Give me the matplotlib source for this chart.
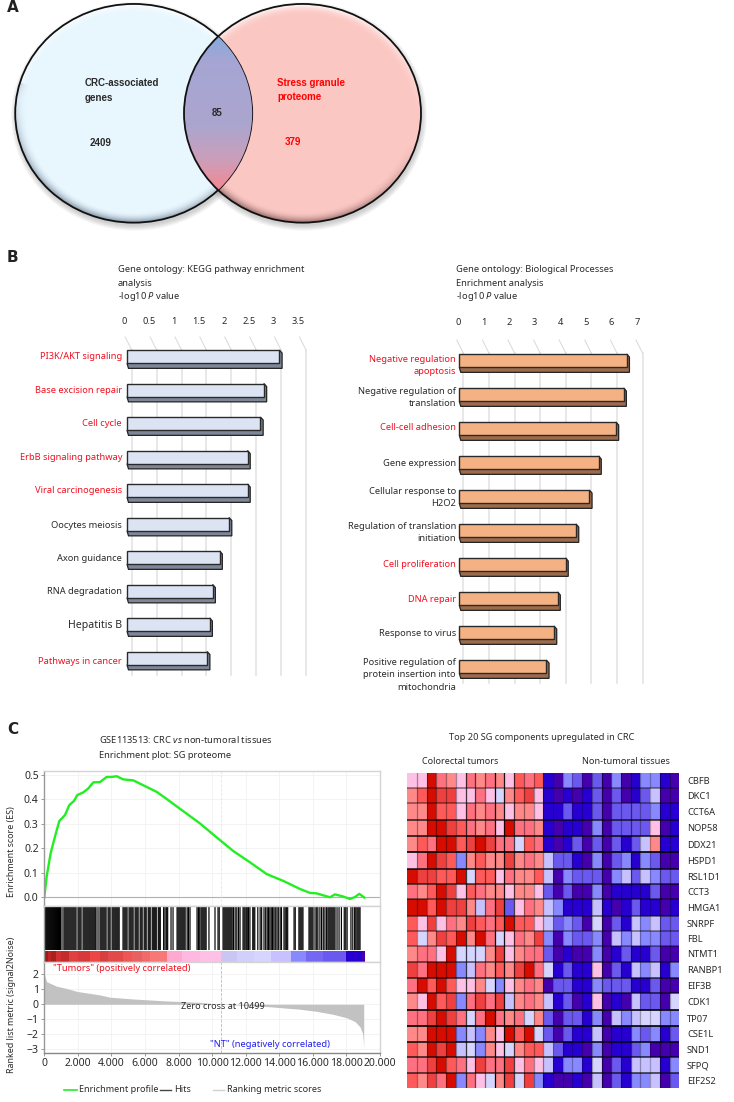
import numpy as np
import matplotlib
matplotlib.use('Agg')
import matplotlib.pyplot as plt
from matplotlib.colors import ListedColormap
from matplotlib.patches import Ellipse, Polygon, PathPatch
from matplotlib.path import Path

plt.rcParams['font.family'] = ['Noto Sans', 'DejaVu Sans']
plt.rcParams['mathtext.fontset'] = 'custom'
plt.rcParams['mathtext.rm'] = 'Noto Sans'
plt.rcParams['mathtext.it'] = 'Noto Sans:italic'

W, H = 734, 1102
TXT = '#2a2a2a'
RED = '#f01020'
FS = 6.7

# Panel A
venn_counts = ['2409', '85', '379']

# Panel B
kegg_terms = ['PI3K/AKT signaling', 'Base excision repair', 'Cell cycle', 'ErbB signaling pathway',
              'Viral carcinogenesis', 'Oocytes meiosis', 'Axon guidance', 'RNA degradation',
              'Hepatitis B', 'Pathways in cancer']
kegg_values = [3.06, 2.75, 2.68, 2.42, 2.42, 2.05, 1.86, 1.72, 1.66, 1.61]
kegg_red = [1, 1, 1, 1, 1, 0, 0, 0, 0, 1]
kegg_ticks = [0, 0.5, 1, 1.5, 2, 2.5, 3, 3.5]

bp_terms = ['Negative regulation\napoptosis', 'Negative regulation of\ntranslation', 'Cell-cell adhesion',
            'Gene expression', 'Cellular response to\nH2O2', 'Regulation of translation\ninitiation',
            'Cell proliferation', 'DNA repair', 'Response to virus',
            'Positive regulation of\nprotein insertion into\nmitochondria']
bp_values = [6.54, 6.42, 6.12, 5.44, 5.08, 4.56, 4.15, 3.84, 3.70, 3.40]
bp_red = [1, 0, 1, 0, 0, 0, 1, 1, 0, 0]
bp_ticks = [0, 1, 2, 3, 4, 5, 6, 7]

# Panel C, enrichment plot
es_rank = [0, 139, 377, 635, 894, 1231, 1490, 1768, 1966, 2323, 2621, 2919, 3316, 3713, 4011, 4309, 4706,
           5303, 5899, 6693, 7289, 8083, 9275, 10268, 11261, 12254, 13247, 14240, 15233, 15828, 16226,
           17020, 17318, 17815, 18212, 18510, 18768, 19066]
es_value = [0, 0.084, 0.18, 0.248, 0.312, 0.336, 0.377, 0.394, 0.418, 0.429, 0.445, 0.47, 0.471, 0.492,
            0.492, 0.495, 0.482, 0.478, 0.458, 0.431, 0.402, 0.362, 0.302, 0.245, 0.189, 0.143, 0.095,
            0.067, 0.034, 0.018, 0.016, 0.0, 0.012, 0.003, -0.007, 0.001, 0.014, -0.001]

hits = [0, 60, 120, 180, 240, 300, 360, 420, 480, 540, 600, 660, 720, 780, 840, 900, 960, 1055,
        1170, 1230, 1290, 1350, 1410, 1470, 1530, 1590, 1650, 1710, 1770, 1830, 1890,
        2010, 2070, 2130, 2190, 2310, 2370, 2430, 2490, 2550, 2610, 2670, 2730, 2790, 2850, 2910, 2970,
        3030, 3080, 3200, 3320, 3380, 3440, 3500, 3560, 3620, 3680, 3800, 3860, 3920,
        4040, 4100, 4160, 4220, 4280, 4340, 4400, 4460, 4690, 4750, 4810, 4870, 4930,
        5050, 5110, 5170, 5230, 5290, 5410, 5470, 5530, 5590, 5710, 5770, 5830, 5950, 6010, 6070,
        6190, 6250, 6310, 6430, 6490, 6550, 6610, 6670, 6790, 6850, 6910, 7110, 7190, 7270, 7350,
        7550, 7670, 7910, 7970, 8030, 8090, 8150, 8210, 8270, 8330, 8390, 8510, 8590, 8680,
        9100, 9180, 9260, 9340, 9400, 9460, 9520, 9580, 9640, 9810, 10170, 10350, 10420,
        10650, 10710, 10770, 10830, 10890, 10950, 11010, 11070, 11130, 11190, 11270, 11370, 11470, 11570,
        11660, 11840, 11900, 11960, 12030, 12090, 12160, 12250, 12420, 12480, 12540, 12720, 12860, 12950,
        13090, 13190, 13280, 13360, 13440, 13520, 13600, 13680, 13760, 13860, 13940, 14050, 14130,
        14280, 14350, 14420, 14500, 14880, 14950, 15170, 15230, 15290, 15350, 15410,
        15770, 15830, 15890, 15950, 16010, 16130, 16230, 16300, 16420, 16520, 16620, 16720, 16820,
        16900, 16960, 17020, 17080, 17140, 17200, 17260, 17320, 17440, 17560, 17700,
        17870, 17960, 18040, 18270, 18380, 18490, 18560, 18630, 18690, 18750, 18810]

band_edges = [0, 200, 400, 700, 1000, 1500, 2000, 2700, 3300, 3800, 4700, 5200, 5800, 6300, 7300, 8200, 9300,
              10500, 11500, 12500, 13500, 14700, 15600, 16600, 18000, 18900, 19080]
band_colors = ['#9c1c1c', '#c02424', '#a92020', '#d03030', '#c42c2c', '#e04040', '#d63a3a', '#ee4545', '#d84040',
               '#e24a4a', '#f05555', '#e86060', '#f06a6a', '#f87878', '#ffa8d0', '#ffb8e0', '#ffc0e5',
               '#c9c6f4', '#d0d0fa', '#d5d5ff', '#c7c1ff', '#8888ff', '#7468f2', '#6b58ef', '#2700d1', '#4500ad']

metric_rank = [0, 139, 735, 1330, 1966, 3316, 3912, 5303, 7289, 9275, 10499, 13247, 15233, 16226, 17218,
               18013, 18510, 18808, 18967, 19007, 19030]
metric_value = [2.0, 1.5, 1.2, 1.05, 0.85, 0.62, 0.47, 0.35, 0.22, 0.13, 0.0, -0.15, -0.33, -0.47, -0.67,
                -0.9, -1.15, -1.5, -1.95, -2.5, -2.95]

# Panel C, heat map (levels of the 12-step palette)
genes = ['CBFB', 'DKC1', 'CCT6A', 'NOP58', 'DDX21', 'HSPD1', 'RSL1D1', 'CCT3', 'HMGA1', 'SNRPF',
         'FBL', 'NTMT1', 'RANBP1', 'EIF3B', 'CDK1', 'TP07', 'CSE1L', 'SND1', 'SFPQ', 'EIF2S2']
heat_levels = [
    [6, 6, 11, 8, 7, 6, 8, 7, 8, 7, 6, 9, 8, 9, 1, 0, 3, 2, 0, 2, 0, 3, 0, 1, 3, 3, 1, 0],
    [7, 9, 11, 10, 10, 6, 6, 8, 6, 5, 7, 9, 10, 6, 1, 0, 1, 0, 1, 2, 0, 2, 0, 1, 2, 4, 0, 0],
    [7, 7, 11, 9, 9, 6, 8, 7, 8, 7, 6, 7, 7, 6, 1, 1, 2, 1, 1, 2, 0, 2, 2, 2, 2, 3, 1, 1],
    [7, 7, 11, 11, 10, 9, 8, 7, 8, 6, 11, 8, 8, 7, 1, 0, 1, 1, 0, 3, 0, 2, 2, 2, 2, 6, 0, 1],
    [7, 9, 8, 11, 11, 9, 10, 11, 10, 8, 8, 5, 9, 8, 1, 0, 1, 2, 0, 2, 0, 2, 1, 2, 4, 7, 1, 1],
    [6, 8, 11, 10, 9, 3, 7, 9, 7, 7, 10, 7, 8, 7, 4, 2, 2, 1, 0, 3, 0, 2, 3, 1, 3, 2, 0, 0],
    [11, 10, 10, 9, 9, 11, 5, 9, 9, 6, 8, 7, 7, 9, 4, 0, 3, 2, 2, 2, 0, 3, 4, 2, 4, 3, 2, 2],
    [8, 7, 9, 11, 10, 6, 9, 8, 7, 7, 6, 7, 7, 6, 2, 0, 2, 0, 0, 3, 0, 1, 1, 1, 1, 2, 0, 0],
    [11, 11, 9, 11, 10, 10, 7, 4, 8, 10, 2, 6, 8, 7, 4, 3, 1, 1, 1, 4, 1, 0, 1, 2, 1, 1, 0, 1],
    [9, 6, 10, 6, 8, 7, 10, 9, 8, 9, 11, 9, 9, 6, 4, 2, 3, 2, 0, 5, 0, 2, 1, 4, 3, 4, 2, 2],
    [9, 5, 7, 10, 9, 11, 7, 11, 8, 5, 6, 8, 7, 10, 3, 0, 3, 2, 2, 3, 0, 4, 3, 4, 3, 3, 2, 2],
    [7, 8, 8, 6, 11, 5, 5, 5, 7, 10, 6, 7, 8, 8, 2, 0, 1, 0, 0, 3, 0, 1, 2, 1, 1, 2, 0, 0],
    [10, 8, 11, 11, 11, 3, 4, 8, 7, 9, 7, 10, 11, 8, 5, 1, 2, 1, 1, 6, 0, 2, 1, 4, 3, 4, 1, 3],
    [8, 11, 9, 11, 9, 6, 6, 7, 5, 3, 6, 7, 8, 7, 0, 2, 2, 1, 1, 3, 2, 2, 2, 1, 1, 2, 0, 0],
    [7, 6, 11, 9, 10, 3, 8, 10, 8, 10, 4, 7, 8, 7, 4, 1, 2, 0, 1, 6, 0, 1, 0, 4, 2, 2, 0, 5],
    [8, 8, 10, 11, 10, 8, 5, 8, 11, 8, 7, 8, 5, 7, 2, 0, 2, 2, 1, 3, 0, 4, 3, 4, 5, 5, 3, 3],
    [7, 7, 11, 11, 11, 3, 4, 3, 7, 6, 11, 9, 11, 5, 2, 0, 2, 1, 1, 4, 0, 1, 1, 3, 2, 3, 1, 2],
    [9, 7, 11, 10, 11, 4, 5, 3, 7, 6, 5, 7, 9, 9, 4, 2, 1, 1, 0, 3, 0, 1, 1, 2, 3, 0, 0, 0],
    [8, 8, 10, 11, 9, 8, 6, 10, 8, 8, 10, 6, 8, 6, 4, 1, 3, 3, 1, 5, 0, 2, 1, 4, 4, 4, 1, 3],
    [9, 7, 10, 8, 11, 3, 8, 6, 5, 7, 10, 5, 10, 3, 1, 0, 0, 1, 0, 4, 0, 2, 1, 3, 3, 4, 0, 2],
]
heat_palette = ['#4500ad', '#2700d1', '#6b58ef', '#8888ff', '#c7c1ff', '#d5d5ff',
                '#ffc0e5', '#ff8989', '#ff7080', '#ff5a5a', '#ef4040', '#d60c00']
row_edges = [772.7, 787.7, 803.3, 820, 835.7, 852.3, 869, 884, 899.3, 915.7, 930.7, 946, 961.7, 978, 993,
             1010, 1026, 1041.7, 1056.7, 1073.3, 1088.3]
row_line_alpha = [0.45, 0.45, 0.75, 0.85, 1, 0.85, 0.7, 0.55, 0.55, 0.45, 0.45, 0.6, 0.7, 0.7, 1, 1, 0.9, 0.75, 0.7]
col_line_alpha = [0.35, 0.35, 0.4, 0.35, 0.35, 0.75, 0.65, 0.5, 1, 0.9, 0.7, 0.4, 0.35, 0.4,
                  0.2, 0.25, 0.25, 0.25, 0.3, 0.55, 0.55, 0.35, 0.55, 0.3, 0.25, 0.45, 0.3]

fig = plt.figure(figsize=(W / 100, H / 100), dpi=100)


def px_axes(left, top, right, bottom, **kw):
    return fig.add_axes([left / W, 1 - bottom / H, (right - left) / W, (bottom - top) / H], **kw)


bg = px_axes(0, 0, W, H)
bg.set_axis_off()


def note(x, y, s, **kw):
    kw.setdefault('fontsize', FS)
    kw.setdefault('color', TXT)
    kw.setdefault('va', 'center')
    bg.text(x, y, s, **kw)


def bold(x, y, s, color=TXT):
    note(x, y, s, family='Liberation Sans', fontweight='bold', fontsize=7.0, color=color, zorder=8)


# ---- Panel A: shaded circles
def shaded_circle(cx, cy, w, h, base, rim_dark):
    for k in range(6):
        bg.add_patch(Ellipse((cx + 1, cy + 3), w + 2 * k, h + 2 * k, fc='#555555', ec='none', alpha=0.05, zorder=1))
    patch = Ellipse((cx, cy), w, h, fc=base, ec='none', zorder=2)
    bg.add_patch(patch)
    x = np.linspace(cx - w / 2, cx + w / 2, 480)
    y = np.linspace(cy - h / 2, cy + h / 2, 440)
    xx, yy = np.meshgrid(x, y)
    dx, dy = (xx - cx) / (w / 2), (yy - cy) / (h / 2)
    r = np.hypot(dx, dy)
    rim = np.clip((r - 0.9) / 0.1, 0, 1) ** 2
    img = np.ones(xx.shape + (4,))
    lower = np.clip((dy * 0.85 - dx * 0.25) / np.maximum(r, 1e-3), 0, 1)
    upper = np.clip(-dy / np.maximum(r, 1e-3), 0, 1)
    img[..., :3] = np.where((lower > 0)[..., None], np.array(rim_dark), 1.0)
    img[..., 3] = rim * np.maximum(lower, upper) * 0.9
    im = bg.imshow(img, extent=(cx - w / 2, cx + w / 2, cy + h / 2, cy - h / 2), aspect='auto', zorder=3)
    im.set_clip_path(patch)


cx1, cx2, cy, ew, eh = 133.7, 302.5, 113.3, 237, 218.7
shaded_circle(cx1, cy, ew, eh, '#e8f6fe', (0.35, 0.42, 0.5))
bg.add_patch(Ellipse((cx1, cy), ew, eh, fc='none', ec='#111111', lw=1.3, zorder=4))
shaded_circle(cx2, cy, ew, eh, '#fbc7c3', (0.42, 0.28, 0.28))

t = np.linspace(0, 2 * np.pi, 1500)
x1, y1 = cx1 + ew / 2 * np.cos(t), cy + eh / 2 * np.sin(t)
x2, y2 = cx2 + ew / 2 * np.cos(t), cy + eh / 2 * np.sin(t)
in_2 = ((x1 - cx2) / (ew / 2)) ** 2 + ((y1 - cy) / (eh / 2)) ** 2 < 1
in_1 = ((x2 - cx1) / (ew / 2)) ** 2 + ((y2 - cy) / (eh / 2)) ** 2 < 1
arc_a = np.column_stack([x1[in_2], y1[in_2]])
arc_b = np.column_stack([x2[in_1], y2[in_1]])
arc_a = arc_a[np.argsort(arc_a[:, 1])]
arc_b = arc_b[np.argsort(-arc_b[:, 1])]
lens = PathPatch(Path(np.vstack([arc_a, arc_b])), fc='none', ec='none', zorder=5)
bg.add_patch(lens)
lens_stops_y = [32, 60, 125, 160, 192]
lens_stops_rgb = np.array([[0.50, 0.67, 0.87], [0.65, 0.65, 0.83], [0.67, 0.65, 0.81], [0.80, 0.62, 0.73], [0.96, 0.53, 0.56]])
gy = np.linspace(30, 196, 200)
grad = np.column_stack([np.interp(gy, lens_stops_y, lens_stops_rgb[:, i]) for i in range(3)])[:, None, :]
im = bg.imshow(grad, extent=(180, 256, 196, 30), aspect='auto', zorder=6)
im.set_clip_path(lens)
bg.add_patch(Ellipse((cx2, cy), ew, eh, fc='none', ec='#111111', lw=1.3, zorder=7))
bg.set_xlim(0, W)
bg.set_ylim(H, 0)

bold(85, 83, 'CRC-associated')
bold(85, 98, 'genes')
bold(90, 143, venn_counts[0])
bold(212, 113, venn_counts[1])
bold(277, 83, 'Stress granule', 'red')
bold(277, 97, 'proteome', 'red')
bold(285, 142, venn_counts[2], 'red')

for letter, yy in zip('ABC', [7, 258, 729]):
    note(7, yy, letter, fontsize=11, fontweight='bold', color='#222222', family='DejaVu Sans')

note(118, 269, 'Gene ontology: KEGG pathway enrichment')
note(118, 283, 'analysis')
note(118, 296.7, '-log10 $\\mathit{P}$ value')
note(455.7, 269, 'Gene ontology: Biological Processes')
note(455.7, 283, 'Enrichment analysis')
note(455.7, 296.5, '-log10 $\\mathit{P}$ value')


# ---- Panel B: pseudo-3D bars
def bar_panel(values, terms, red, ticks, x0, unit, c0, step, bar_h, fill, side, wall_off, wall_top, wall_bot,
              tick_y, tick_off, label_shift, label_gap, big=()):
    right = x0 + (ticks[-1]) * unit + wall_off + 6
    ax = px_axes(x0 - 10, wall_top - 14, right, wall_bot + 2)
    ax.set_axis_off()
    ax.set_xlim(-10 / unit, (right - x0) / unit)
    ax.set_ylim((wall_bot + 2 - c0) / step, (wall_top - 14 - c0) / step)
    ax.patch.set_alpha(0)
    dxp, dyp = 1 / unit, 1 / step
    pos = np.arange(len(values))
    for v in ticks:
        xw = v + wall_off * dxp
        ax.plot([xw, xw], [(wall_top - c0) * dyp, (wall_bot - c0) * dyp], color='#e2e2e2', lw=1.1, zorder=1)
        ax.plot([xw - 6.5 * dxp, xw], [(wall_top - 13 - c0) * dyp, (wall_top - c0) * dyp], color='#d8d8d8', lw=0.7, zorder=1)
        ax.annotate(f'{v:g}', (v, (tick_y - c0) * dyp), xytext=(tick_off * 0.72, 0), textcoords='offset points',
                    ha='center', va='center', fontsize=FS, color=TXT, annotation_clip=False)
    half = bar_h / 2 * dyp
    for p, v in zip(pos, values):
        depth = [(0, p + half), (1.5 * dxp, p + half + 5 * dyp), (v + 2.7 * dxp, p + half + 5 * dyp),
                 (v + 2.7 * dxp, p - half + 3 * dyp), (v, p - half), (v, p + half)]
        ax.add_patch(Polygon(depth, fc=side, ec='#222222', lw=0.9, zorder=2))
    ax.barh(pos, values, height=bar_h * dyp, color=fill, edgecolor='#2a2a2a', lw=1.0, zorder=3)
    for p, name, is_red, shift in zip(pos, terms, red, label_shift):
        ax.annotate(name, (0, p), xytext=(-label_gap * 0.72, -shift * 0.72), textcoords='offset points', ha='right',
                    va='center', ma='right', fontsize=7.6 if name in big else FS, color=RED if is_red else TXT,
                    linespacing=1.5, annotation_clip=False)


bar_panel(kegg_values, kegg_terms, kegg_red, kegg_ticks, 127, 49.8, 356.7, 33.5, 13.3, '#dce4f4', '#7e8798',
          4.7, 350, 675, 321.7, -2.7, [0, 0, 0, 0, 0, 1, 1, 0, 1, 3], 5, big=('Hepatitis B',))
bar_panel(bp_values, bp_terms, bp_red, bp_ticks, 459.3, 25.6, 360.7, 34, 13.3, '#f4b183', '#9c6b4c',
          4, 353, 683, 322, -1.5, [5, 3, -1, 1, 1, 2, 0, 1, 1, 8], 3.3)

# ---- Panel C: enrichment plot
xl, xr = 44.3, 380
es_ax = px_axes(xl, 770.7, xr, 906)
hit_ax = px_axes(xl, 906, xr, 962)
rank_ax = px_axes(xl, 962, xr, 1052.7)
xticks = np.arange(0, 20001, 2000)
for a in (es_ax, hit_ax, rank_ax):
    a.set_xlim(0, 20000)
    for s in a.spines.values():
        s.set_color('#d4d4d4')
        s.set_linewidth(1.0)
    a.set_xticks(xticks)
    a.grid(True, color='#f1f1f1', lw=0.6)
    a.set_axisbelow(True)
    a.tick_params(labelbottom=False, bottom=False, left=False, labelleft=False)

es_ax.set_ylim(-0.0356, 0.5176)
es_ax.set_yticks([0, 0.1, 0.2, 0.3, 0.4, 0.5])
es_ax.tick_params(left=True, labelleft=True, length=2.5, width=0.6, color='#888888', labelsize=7.5, labelcolor=TXT, pad=1.5)
es_ax.axhline(0, color='#b0b0b0', lw=0.8)
es_ax.axvline(10499, color='#e6e6e6', lw=0.6, ls='--')
es_ax.plot(es_rank, es_value, color='#22ee22', lw=1.7)
es_ax.spines['left'].set_color('#999999')

hit_ax.set_ylim(0, 1)
hit_ax.grid(False)
hit_lines = hit_ax.vlines(hits, 0.214, 1, color='black', lw=0.85)
hit_lines.set_snap(False)
for i, c in enumerate(band_colors):
    hit_ax.axvspan(band_edges[i], band_edges[i + 1], 0, 0.205, color=c, lw=0)
hit_ax.spines['left'].set_color('#999999')

rank_ax.set_ylim(-3.22, 2.81)
rank_ax.set_yticks([-3, -2, -1, 0, 1, 2])
rank_ax.tick_params(left=True, labelleft=True, bottom=True, labelbottom=True, length=2.5, width=0.6,
                    color='#888888', labelsize=7.5, labelcolor=TXT, pad=1.5)
rank_ax.set_xticklabels([f'{v:,}'.replace(',', '.') for v in xticks])
rank_ax.axvline(10499, color='#bbbbbb', lw=0.6, ls='--')
rank_ax.fill_between(metric_rank, metric_value, 0, color='#c2c2c2', lw=0)
rank_ax.spines['bottom'].set_color('#888888')
rank_ax.spines['left'].set_color('#999999')
rank_ax.text(10660, -0.18, 'Zero cross at 10499', ha='center', va='center', fontsize=6.5, color=TXT)
rank_ax.text(500, 2.35, '"Tumors" (positively correlated)', va='center', fontsize=FS, color=RED)
rank_ax.text(9900, -2.65, '"NT" (negatively correlated)', va='center', fontsize=FS, color='#2020f0')

note(12, 852, 'Enrichment score (ES)', rotation=90, ha='center', fontsize=6.4)
note(12, 1004.5, 'Ranked list metric (signal2Noise)', rotation=90, ha='center', fontsize=6.4)
note(99, 739.5, 'GSE113513: CRC $\\mathit{vs}$ non-tumoral tissues')
note(99, 755, 'Enrichment plot: SG proteome')
note(245, 815, 'Enrichment score: 0.49')
note(245, 829, 'Nominal $\\mathit{P}$ value: 0.0075')

bg.plot([64, 76.7], [1090, 1090], color='#22ee22', lw=1.2)
note(79, 1090, 'Enrichment profile', fontsize=6.5)
bg.plot([160, 171], [1090, 1090], color='#444444', lw=1.0)
note(174, 1090, 'Hits', fontsize=6.5)
bg.plot([213, 224], [1090, 1090], color='#d0d0d0', lw=1.0)
note(227, 1090, 'Ranking metric scores', fontsize=6.5)
bg.set_xlim(0, W)
bg.set_ylim(H, 0)

# ---- Panel C: heat map
heat = np.array(heat_levels)
hm = px_axes(407.3, row_edges[0], 679.3, row_edges[-1])
hm.pcolormesh(np.arange(heat.shape[1] + 1), row_edges, heat, cmap=ListedColormap(heat_palette), vmin=-0.5, vmax=11.5)
hm.set_xlim(0, heat.shape[1])
hm.set_ylim(row_edges[-1], row_edges[0])
for yy, al in zip(row_edges[1:-1], row_line_alpha):
    hm.axhline(yy, color='black', lw=1.2, alpha=al)
for xx, al in zip(range(1, heat.shape[1]), col_line_alpha):
    hm.axvline(xx, color='black', lw=0.9, alpha=al)
for s in hm.spines.values():
    s.set_visible(False)
hm.set_xticks([])
hm.yaxis.tick_right()
hm.set_yticks([(row_edges[i] + row_edges[i + 1]) / 2 for i in range(len(genes))])
hm.set_yticklabels(genes, fontsize=FS, color=TXT)
hm.tick_params(axis='y', length=0, pad=5.5)
note(541.5, 738, 'Top 20 SG components upregulated in CRC', ha='center', fontsize=6.6)
note(422, 761.7, 'Colorectal tumors', fontsize=6.5)
note(581.7, 761.7, 'Non-tumoral tissues', fontsize=6.6)

fig.savefig('out.png', dpi=100)
